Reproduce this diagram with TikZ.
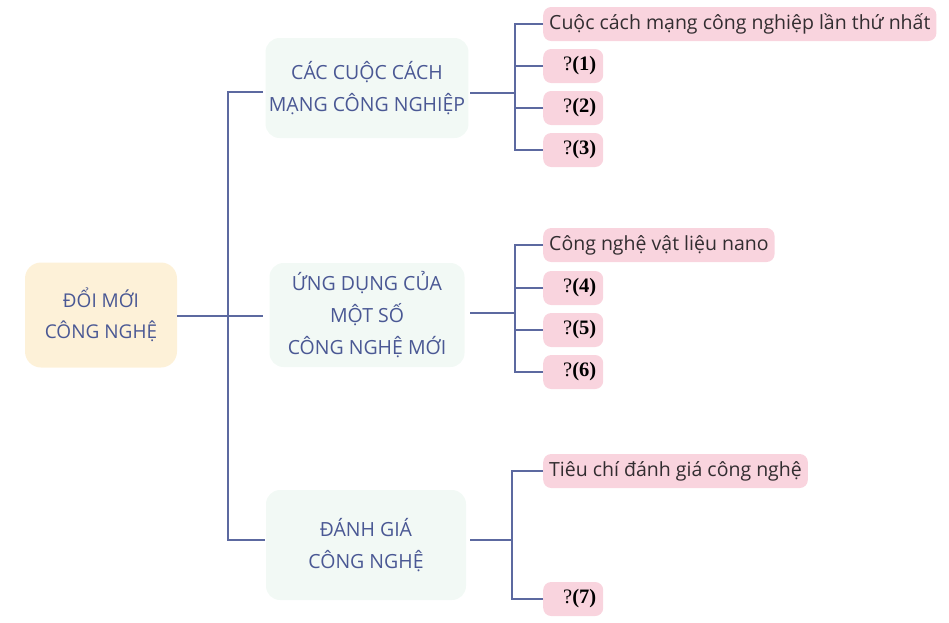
\documentclass[tikz,border=0pt]{standalone}
\usepackage{fontspec}
\setmainfont{Open Sans}
\newfontfamily\qfont{Liberation Serif}
\definecolor{lineblue}{RGB}{92,105,160}
\definecolor{cattext}{RGB}{74,88,148}
\definecolor{pinkbox}{RGB}{249,212,222}
\definecolor{rootfill}{RGB}{253,241,216}
\definecolor{faintgreen}{RGB}{242,249,245}
\definecolor{darktext}{RGB}{50,45,48}
\begin{document}
\begin{tikzpicture}[x=1pt,y=-1pt,
  conn/.style={draw=lineblue,line width=2pt},
  rootbox/.style={fill=rootfill,rounded corners=16pt,minimum width=152pt,minimum height=105pt,align=center,text=cattext,font=\fontsize{19}{31}\selectfont},
  catbox/.style={fill=faintgreen,rounded corners=14pt,align=center,text=cattext,font=\fontsize{19.5}{32}\selectfont},
  longbox/.style={fill=pinkbox,rounded corners=8pt,anchor=west,minimum height=34pt,inner xsep=6pt,text=darktext,font=\fontsize{19.5}{22}\selectfont},
  qbox/.style={fill=pinkbox,rounded corners=8pt,anchor=west,minimum height=34pt,text width=46pt,inner xsep=7pt,align=right,text=black,font=\qfont\fontsize{20.5}{22}\selectfont}
]
\useasboundingbox (0,0) rectangle (949,622);

% root
\node[rootbox] (root) at (101,315) {ĐỔI MỚI\\CÔNG NGHỆ};

% categories
\node[catbox,minimum width=200pt,minimum height=100pt] (c1) at (367,88) {CÁC CUỘC CÁCH\\MẠNG CÔNG NGHIỆP};
\node[catbox,minimum width=195pt,minimum height=104pt] (c2) at (367,315) {ỨNG DỤNG CỦA\\MỘT SỐ\\CÔNG NGHỆ MỚI};
\node[catbox,minimum width=200pt,minimum height=110pt] (c3) at (366,545) {ĐÁNH GIÁ\\CÔNG NGHỆ};

% leaves group 1
\node[longbox] (l1) at (543,24) {Cuộc cách mạng công nghiệp lần thứ nhất};
\node[qbox] (q1) at (543,66) {?\textbf{(1)}};
\node[qbox] (q2) at (543,108) {?\textbf{(2)}};
\node[qbox] (q3) at (543,150) {?\textbf{(3)}};

% leaves group 2
\node[longbox] (l2) at (543,245) {Công nghệ vật liệu nano};
\node[qbox] (q4) at (543,288) {?\textbf{(4)}};
\node[qbox] (q5) at (543,330) {?\textbf{(5)}};
\node[qbox] (q6) at (543,372) {?\textbf{(6)}};

% leaves group 3
\node[longbox] (l3) at (543,471) {Tiêu chí đánh giá công nghệ};
\node[qbox] (q7) at (543,599) {?\textbf{(7)}};

% trunk
\coordinate (t) at (228,316);
\draw[conn] (root.east |- t) -- (263,316);
\draw[conn] (263,92) -- (228,92) -- (228,540) -- (265,540);

% group 1 connectors
\coordinate (s1) at (515,93);
\draw[conn] (470,93) -- (s1);
\draw[conn] (l1.west) -| (s1);
\draw[conn] (q3.west) -| (s1);
\draw[conn] (q1.west) -- (q1.west -| s1);
\draw[conn] (q2.west) -- (q2.west -| s1);

% group 2 connectors
\coordinate (s2) at (515,313);
\draw[conn] (470,313) -- (s2);
\draw[conn] (l2.west) -| (s2);
\draw[conn] (q6.west) -| (s2);
\draw[conn] (q4.west) -- (q4.west -| s2);
\draw[conn] (q5.west) -- (q5.west -| s2);

% group 3 connectors
\coordinate (s3) at (512,540);
\draw[conn,line width=1.2pt] (470,540) -- (s3);
\draw[conn] (l3.west) -| (s3);
\draw[conn] (q7.west) -| (s3);
\end{tikzpicture}
\end{document}
